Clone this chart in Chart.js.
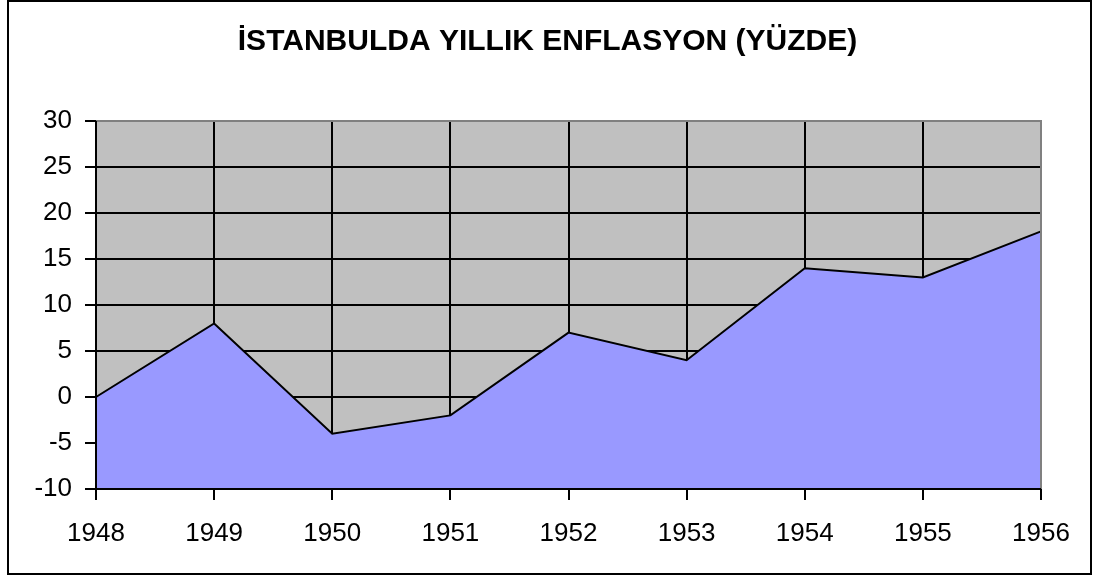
<!DOCTYPE html>
<html>
<head>
<meta charset="utf-8">
<script src="https://cdn.jsdelivr.net/npm/chart.js@4/dist/chart.umd.min.js"></script>
<style>
  html, body { margin: 0; padding: 0; background: #fff; }
  canvas { display: block; }
</style>
</head>
<body>
<canvas id="chart" width="1095" height="580"></canvas>
<script>
// Yillar ve enflasyon (yuzde)
const years = ["1948", "1949", "1950", "1951", "1952", "1953", "1954", "1955", "1956"]
const inflation = [0, 8, -4, -2, 7, 4, 14, 13, 18]
const yTicks = [-10, -5, 0, 5, 10, 15, 20, 25, 30]

const titleText = "İSTANBULDA YILLIK ENFLASYON (YÜZDE)"
const fontFamily = "'Liberation Sans', Arial, sans-serif"

// Background, outer border and plot area frame (Excel style)
const frame = {
  id: "frame",
  beforeDraw(chart) {
    const { ctx, chartArea: a } = chart
    ctx.save()
    ctx.fillStyle = "#fff"
    ctx.fillRect(0, 0, chart.width, chart.height)
    ctx.strokeStyle = "#000"
    ctx.lineWidth = 2
    ctx.strokeRect(8, 1, 1083, 573)
    ctx.fillStyle = "#c0c0c0"
    ctx.fillRect(a.left, a.top, a.right - a.left, a.bottom - a.top)
    ctx.restore()
  },
  afterDatasetsDraw(chart) {
    const { ctx, chartArea: a } = chart
    ctx.save()
    ctx.lineWidth = 2
    // gray plot-area border on top and right
    ctx.strokeStyle = "#808080"
    ctx.beginPath()
    ctx.moveTo(a.left, a.top)
    ctx.lineTo(a.right, a.top)
    ctx.lineTo(a.right, a.bottom)
    ctx.stroke()
    // black axes on left and bottom
    ctx.strokeStyle = "#000"
    ctx.beginPath()
    ctx.moveTo(a.left, a.top)
    ctx.lineTo(a.left, a.bottom)
    ctx.lineTo(a.right, a.bottom)
    ctx.stroke()
    ctx.restore()
  }
}

new Chart(document.getElementById("chart"), {
  type: "line",
  data: {
    labels: years,
    datasets: [{
      data: inflation,
      borderColor: "#000",
      borderWidth: 2,
      backgroundColor: "#9999ff",
      fill: "start",
      tension: 0,
      pointRadius: 0
    }]
  },
  options: {
    responsive: false,
    animation: false,
    layout: { padding: { left: 10, right: 10, top: 0, bottom: 10 } },
    plugins: {
      legend: { display: false },
      tooltip: { enabled: false },
      title: {
        display: true,
        text: titleText,
        color: "#000",
        font: { family: fontFamily, size: 30, weight: "bold" },
        padding: { top: 24, bottom: 61 }
      }
    },
    scales: {
      x: {
        type: "category",
        offset: false,
        afterFit(scale) { scale.height = 81 },
        grid: {
          color: "#000",
          lineWidth: 2,
          offset: false,
          drawTicks: true,
          tickLength: 11,
          tickColor: "#000"
        },
        border: { display: false },
        ticks: {
          color: "#000",
          padding: 18,
          maxRotation: 0,
          autoSkip: false,
          font: { family: fontFamily, size: 26 }
        }
      },
      y: {
        min: -10,
        max: 30,
        afterFit(scale) { scale.width = 86 },
        afterBuildTicks(scale) { scale.ticks = yTicks.map(v => ({ value: v })) },
        grid: {
          color: "#000",
          lineWidth: 2,
          drawTicks: true,
          tickLength: 11,
          tickColor: "#000"
        },
        border: { display: false },
        ticks: {
          color: "#000",
          padding: 13,
          font: { family: fontFamily, size: 26 }
        }
      },
      // empty right axis only to balance the layout so the title stays centred
      yRight: {
        position: "right",
        afterFit(scale) { scale.width = 44 },
        grid: { display: false },
        border: { display: false },
        ticks: { display: false }
      }
    }
  },
  plugins: [frame]
})
</script>
</body>
</html>
